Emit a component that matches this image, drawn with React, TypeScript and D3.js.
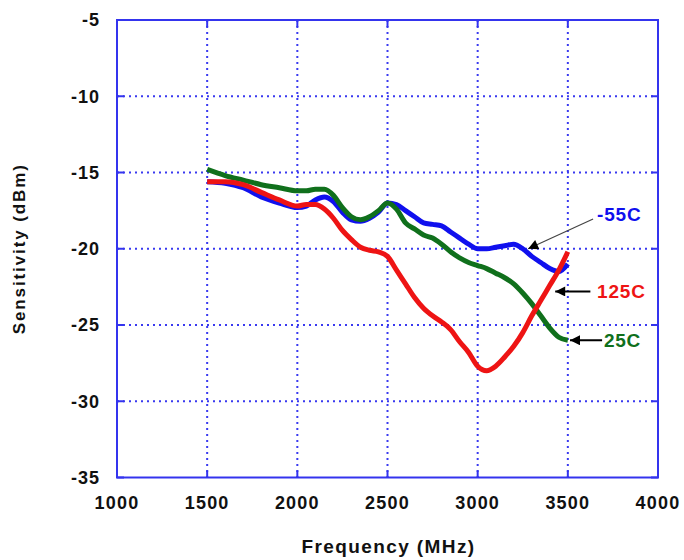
import React, { useEffect, useRef } from 'react';
import * as d3 from 'd3';

// frequency (MHz) sample points, shared by all three traces
const freqs = [1500, 1600, 1700, 1800, 1900, 2000, 2050, 2100, 2150, 2200, 2250, 2300, 2350, 2400, 2450,
  2500, 2550, 2600, 2650, 2700, 2750, 2800, 2850, 2900, 2950, 3000, 3050, 3100, 3150, 3200, 3250,
  3300, 3350, 3400, 3450, 3500];

const minus55 = [-15.6, -15.7, -16.0, -16.6, -17.0, -17.3, -17.2, -16.8, -16.6, -16.9, -17.6, -18.1, -18.2, -18.0, -17.6,
  -17.0, -17.1, -17.5, -17.9, -18.3, -18.4, -18.5, -18.9, -19.3, -19.7, -20.0, -20.0, -19.9, -19.8, -19.7, -20.0,
  -20.5, -20.9, -21.3, -21.5, -21.0];

const plus25 = [-14.8, -15.2, -15.5, -15.8, -16.0, -16.2, -16.2, -16.1, -16.1, -16.5, -17.3, -17.9, -18.1, -17.9, -17.5,
  -17.0, -17.4, -18.3, -18.7, -19.1, -19.3, -19.7, -20.2, -20.6, -20.9, -21.1, -21.3, -21.6, -21.9, -22.3, -22.9,
  -23.6, -24.4, -25.2, -25.8, -26.0];

const plus125 = [-15.6, -15.6, -15.8, -16.3, -16.8, -17.2, -17.1, -17.1, -17.4, -18.0, -18.8, -19.4, -19.9, -20.1, -20.2,
  -20.5, -21.4, -22.3, -23.2, -23.9, -24.4, -24.8, -25.3, -26.1, -26.8, -27.7, -28.0, -27.7, -27.1, -26.4, -25.5,
  -24.4, -23.4, -22.4, -21.4, -20.2];

const xTicks = [1000, 1500, 2000, 2500, 3000, 3500, 4000];
const yTicks = [-35, -30, -25, -20, -15, -10, -5];

const series = [
  { name: '-55C', values: minus55, color: '#1010ee' },
  { name: '25C', values: plus25, color: '#10701c' },
  { name: '125C', values: plus125, color: '#ee1414' },
];

// label callouts: arrow from (fromF, fromV) to tip (toF, toV), text near the tail
const callouts = [
  { name: '-55C', color: '#1010ee', fromF: 3640, fromV: -18.05, toF: 3280, toV: -20.0, tx: 3662, tv: -17.75, thin: true },
  { name: '125C', color: '#ee1414', fromF: 3625, fromV: -22.8, toF: 3430, toV: -22.8, tx: 3662, tv: -22.8, thin: false },
  { name: '25C', color: '#10701c', fromF: 3690, fromV: -26.0, toF: 3512, toV: -26.0, tx: 3700, tv: -26.0, thin: false },
];

const W = 684;
const H = 560;
const margin = { top: 20, right: 26, bottom: 82.5, left: 117 };

const App: React.FC = () => {
  const ref = useRef<SVGSVGElement | null>(null);

  useEffect(() => {
    if (!ref.current) return;
    const svg = d3.select(ref.current);
    svg.selectAll('*').remove();

    const x = d3.scaleLinear().domain([1000, 4000]).range([margin.left, W - margin.right]);
    const y = d3.scaleLinear().domain([-35, -5]).range([H - margin.bottom, margin.top]);
    const [x0, x1] = x.range();
    const [y0, y1] = y.range();
    const frame = '#3434ee';
    const font = '"Liberation Sans", Arial, sans-serif';

    svg.append('rect').attr('width', W).attr('height', H).attr('fill', '#fff');

    // dotted grid
    const grid = svg.append('g').attr('stroke', '#3a3af0').attr('stroke-width', 2).attr('stroke-dasharray', '2,4');
    xTicks.slice(1, -1).forEach(t => {
      grid.append('line').attr('x1', x(t)).attr('x2', x(t)).attr('y1', y1).attr('y2', y0);
    });
    yTicks.slice(1, -1).forEach(t => {
      grid.append('line').attr('x1', x0).attr('x2', x1).attr('y1', y(t)).attr('y2', y(t));
    });

    // inward tick marks on all four sides
    const ticks = svg.append('g').attr('stroke', frame).attr('stroke-width', 2);
    const tl = 7;
    xTicks.forEach(t => {
      ticks.append('line').attr('x1', x(t)).attr('x2', x(t)).attr('y1', y0).attr('y2', y0 - tl);
      ticks.append('line').attr('x1', x(t)).attr('x2', x(t)).attr('y1', y1).attr('y2', y1 + tl);
    });
    yTicks.forEach(t => {
      ticks.append('line').attr('x1', x0).attr('x2', x0 + tl).attr('y1', y(t)).attr('y2', y(t));
      ticks.append('line').attr('x1', x1).attr('x2', x1 - tl).attr('y1', y(t)).attr('y2', y(t));
    });

    svg.append('rect')
      .attr('x', x0).attr('y', y1).attr('width', x1 - x0).attr('height', y0 - y1)
      .attr('fill', 'none').attr('stroke', frame).attr('stroke-width', 2);

    // tick labels
    svg.append('g').selectAll('text').data(yTicks).join('text')
      .attr('x', x0 - 17).attr('y', d => y(d)).attr('dy', '0.36em')
      .attr('text-anchor', 'end').attr('font-family', font).attr('font-weight', 'bold')
      .attr('font-size', 18).attr('letter-spacing', 1).attr('fill', '#111')
      .text(d => d);

    svg.append('g').selectAll('text').data(xTicks).join('text')
      .attr('x', d => x(d)).attr('y', y0 + 31)
      .attr('text-anchor', 'middle').attr('font-family', font).attr('font-weight', 'bold')
      .attr('font-size', 18).attr('letter-spacing', 1.2).attr('fill', '#111')
      .text(d => d);

    // axis titles
    svg.append('text')
      .attr('x', (x0 + x1) / 2 + 1).attr('y', 553)
      .attr('text-anchor', 'middle').attr('font-family', font).attr('font-weight', 'bold')
      .attr('font-size', 19).attr('letter-spacing', 1.4).attr('fill', '#111')
      .text('Frequency (MHz)');

    svg.append('text')
      .attr('transform', `translate(25,${(y0 + y1) / 2}) rotate(-90)`)
      .attr('text-anchor', 'middle').attr('font-family', font).attr('font-weight', 'bold')
      .attr('font-size', 17).attr('letter-spacing', 1.9).attr('fill', '#111')
      .text('Sensitivity (dBm)');

    // traces
    const line = d3.line<number>()
      .x((_, i) => x(freqs[i]))
      .y(d => y(d))
      .curve(d3.curveMonotoneX);

    svg.append('g').selectAll('path').data(series).join('path')
      .attr('d', d => line(d.values))
      .attr('fill', 'none')
      .attr('stroke', d => d.color)
      .attr('stroke-width', 5)
      .attr('stroke-linejoin', 'round');

    // callouts
    const defs = svg.append('defs');
    defs.append('marker')
      .attr('id', 'arrowhead').attr('viewBox', '0 0 10 10')
      .attr('refX', 10).attr('refY', 5)
      .attr('markerWidth', 15).attr('markerHeight', 10)
      .attr('markerUnits', 'userSpaceOnUse').attr('orient', 'auto')
      .append('path').attr('d', 'M0,0 L10,5 L0,10 Z').attr('fill', '#000');

    const co = svg.append('g');
    callouts.forEach(c => {
      co.append('line')
        .attr('x1', x(c.fromF)).attr('y1', y(c.fromV))
        .attr('x2', x(c.toF)).attr('y2', y(c.toV))
        .attr('stroke', c.thin ? '#444' : '#000')
        .attr('stroke-width', c.thin ? 1.2 : 2)
        .attr('marker-end', 'url(#arrowhead)');
      co.append('text')
        .attr('x', x(c.tx)).attr('y', y(c.tv)).attr('dy', '0.36em')
        .attr('font-family', font).attr('font-weight', 'bold')
        .attr('font-size', 19).attr('letter-spacing', 0.8)
        .attr('fill', c.color)
        .text(c.name);
    });
  }, []);

  return (
    <div style={{ position: 'absolute', left: 0, top: 0 }}>
      <svg ref={ref} width={W} height={H} style={{ display: 'block' }} />
    </div>
  );
};

export default App;
